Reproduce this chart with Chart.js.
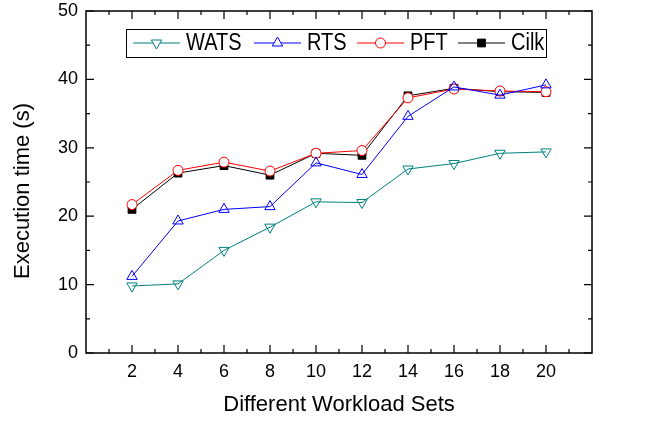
<!DOCTYPE html>
<html>
<head>
<meta charset="utf-8">
<script src="https://cdn.jsdelivr.net/npm/chart.js@4.4.1/dist/chart.umd.min.js"></script>
<style>
  body { margin: 0; background: #fff; }
  #wrap { width: 650px; height: 421px; }
</style>
</head>
<body>
<div id="wrap"><canvas id="chart"></canvas></div>
<script>
// workload sets on the x axis
const workloadSets = [2, 4, 6, 8, 10, 12, 14, 16, 18, 20];
const xMinorTicks = [1, 3, 5, 7, 9, 11, 13, 15, 17, 19, 21];
const yMajorTicks = [0, 10, 20, 30, 40, 50];
const yMinorTicks = [5, 15, 25, 35, 45];

// execution time (s)
const watsData = [9.8, 10.1, 15.0, 18.4, 22.1, 22.0, 26.9, 27.7, 29.2, 29.4];
const rtsData = [11.2, 19.3, 21.0, 21.4, 27.8, 26.1, 34.6, 38.9, 37.7, 39.2];
const pftData = [21.7, 26.7, 27.9, 26.6, 29.2, 29.6, 37.3, 38.6, 38.3, 38.2];
const cilkData = [21.0, 26.3, 27.4, 26.0, 29.2, 28.9, 37.6, 38.7, 38.2, 38.1];

const FONT = "'Liberation Sans', Arial, sans-serif";

function toPoints(values) {
    return values.map((v, i) => ({ x: workloadSets[i], y: v }));
}

const seriesStyle = [
    { label: 'WATS', data: watsData, color: '#008080', pointStyle: 'triangle', rotation: 180, radius: 6, fill: 'rgba(0,0,0,0)' },
    { label: 'RTS', data: rtsData, color: '#0000ff', pointStyle: 'triangle', rotation: 0, radius: 6, fill: 'rgba(0,0,0,0)' },
    { label: 'PFT', data: pftData, color: '#ff0000', pointStyle: 'circle', rotation: 0, radius: 5, fill: '#ffffff' },
    { label: 'Cilk', data: cilkData, color: '#000000', pointStyle: 'rect', rotation: 0, radius: 5.5, fill: '#000000' }
];

// frame, inward ticks, legend box and y title
const decorPlugin = {
    id: 'decor',
    afterDraw(chart) {
        const ctx = chart.ctx;
        const a = chart.chartArea;
        const xs = chart.scales.x, ys = chart.scales.y;
        ctx.save();
        ctx.strokeStyle = '#000';
        ctx.lineWidth = 1.5;
        ctx.strokeRect(a.left, a.top, a.right - a.left, a.bottom - a.top);

        ctx.lineWidth = 1.2;
        ctx.beginPath();
        function xTick(v, len) {
            const px = xs.getPixelForValue(v);
            ctx.moveTo(px, a.bottom); ctx.lineTo(px, a.bottom - len);
            ctx.moveTo(px, a.top); ctx.lineTo(px, a.top + len);
        }
        function yTick(v, len) {
            const py = ys.getPixelForValue(v);
            ctx.moveTo(a.left, py); ctx.lineTo(a.left + len, py);
            ctx.moveTo(a.right, py); ctx.lineTo(a.right - len, py);
        }
        workloadSets.forEach(v => xTick(v, 8));
        xMinorTicks.forEach(v => xTick(v, 4));
        yMajorTicks.forEach(v => yTick(v, 8));
        yMinorTicks.forEach(v => yTick(v, 4));
        ctx.stroke();

        // legend
        const boxL = 126, boxT = 29, boxR = 546, boxB = 57;
        ctx.fillStyle = '#fff';
        ctx.fillRect(boxL, boxT, boxR - boxL, boxB - boxT);
        ctx.lineWidth = 1;
        ctx.strokeStyle = '#000';
        ctx.strokeRect(boxL + 0.5, boxT + 0.5, boxR - boxL, boxB - boxT);
        const midY = 43;
        const lineStarts = [133, 254, 357, 458];
        seriesStyle.forEach((s, i) => {
            const x0 = lineStarts[i];
            ctx.strokeStyle = s.color;
            ctx.lineWidth = 1;
            ctx.beginPath();
            ctx.moveTo(x0, midY); ctx.lineTo(x0 + 47, midY);
            ctx.stroke();
            ctx.fillStyle = s.fill === 'rgba(0,0,0,0)' ? '#fff' : s.fill;
            Chart.helpers.drawPoint(ctx, {
                pointStyle: s.pointStyle, rotation: s.rotation, radius: s.radius, borderWidth: 1
            }, x0 + 23.5, midY);
            // the original legend text is a little taller than it is wide
            ctx.save();
            ctx.translate(x0 + 53, midY + 1);
            ctx.scale(1, 1.15);
            ctx.fillStyle = '#000';
            ctx.font = '20px ' + FONT;
            ctx.textAlign = 'left';
            ctx.textBaseline = 'middle';
            ctx.fillText(s.label, 0, 0);
            ctx.restore();
        });

        // y axis title
        ctx.fillStyle = '#000';
        ctx.font = '22px ' + FONT;
        ctx.textAlign = 'center';
        ctx.textBaseline = 'middle';
        ctx.translate(23, 191);
        ctx.rotate(-Math.PI / 2);
        ctx.fillText('Execution time (s)', 0, 0);
        ctx.restore();
    }
};

new Chart(document.getElementById('chart').getContext('2d'), {
    type: 'line',
    data: {
        datasets: seriesStyle.map(s => ({
            label: s.label,
            data: toPoints(s.data),
            borderColor: s.color,
            borderWidth: 1,
            backgroundColor: s.fill,
            pointBackgroundColor: s.fill,
            pointBorderColor: s.color,
            pointBorderWidth: 1,
            pointStyle: s.pointStyle,
            pointRotation: s.rotation,
            pointRadius: s.radius,
            fill: false,
            tension: 0
        }))
    },
    options: {
        responsive: true,
        maintainAspectRatio: false,
        animation: false,
        layout: { padding: { top: 11, right: 58, left: 0, bottom: 0 } },
        plugins: {
            legend: { display: false },
            tooltip: { enabled: false }
        },
        scales: {
            x: {
                type: 'linear',
                min: 0,
                max: 22,
                afterBuildTicks: s => { s.ticks = workloadSets.map(v => ({ value: v })); },
                afterFit: s => { s.height = 68; },
                grid: { display: false, drawTicks: false },
                border: { display: false },
                ticks: { color: '#000', font: { family: FONT, size: 18 }, padding: 8, maxRotation: 0, autoSkip: false },
                title: { display: true, text: 'Different Workload Sets', color: '#000', font: { family: FONT, size: 22 }, padding: { top: 0, bottom: 3 } }
            },
            y: {
                min: 0,
                max: 50,
                afterBuildTicks: s => { s.ticks = yMajorTicks.map(v => ({ value: v })); },
                afterFit: s => { s.width = 86; },
                grid: { display: false, drawTicks: true, tickLength: 8 },
                border: { display: false },
                ticks: { color: '#000', font: { family: FONT, size: 18 }, padding: 0 }
            }
        }
    },
    plugins: [decorPlugin]
});
</script>
</body>
</html>
